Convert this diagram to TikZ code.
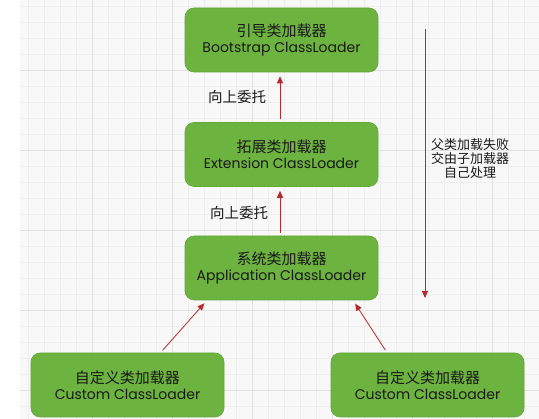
\documentclass[tikz,border=0pt]{standalone}
\usepackage{fontspec}
\setmainfont{Poppins}
\newfontfamily\cjk{Noto Sans CJK SC}
\usetikzlibrary{arrows.meta,calc}
\definecolor{boxgreen}{HTML}{6DB33F}
\definecolor{boxedge}{HTML}{64A83A}
\definecolor{arrowred}{HTML}{B8292B}
\definecolor{gridbg}{HTML}{F8F8F8}
\definecolor{gridminor}{HTML}{EEEEEE}
\definecolor{gridmajor}{HTML}{E2E2E2}
\tikzset{
  loader/.style={draw=boxedge, line width=0.6pt, fill=boxgreen, rounded corners=9pt,
    minimum width=193pt, minimum height=64pt, align=center, inner sep=0pt,
    font=\fontsize{14}{15.5}\selectfont, text=black!90},
  uparrow/.style={draw=arrowred, line width=0.8pt, -{Triangle[length=7pt,width=6pt]},
    shorten <=3pt, shorten >=4pt},
  cjklabel/.style={font=\cjk\fontsize{14.5}{15}\selectfont, text=black!90, align=center},
}
\begin{document}
\begin{tikzpicture}[x=1pt,y=-1pt]
\useasboundingbox (0,0) rectangle (539,419);
\fill[white] (0,0) rectangle (539,419);
\fill[gridbg] (20,0) rectangle (539,419);
\foreach \x in {28,44,...,539} \draw[gridminor, line width=0.5pt] (\x,0) -- (\x,419);
\foreach \y in {6,22,...,419} \draw[gridminor, line width=0.5pt] (20,\y) -- (539,\y);
\foreach \x in {92,172,...,539} \draw[gridmajor, line width=0.7pt] (\x,0) -- (\x,419);
\foreach \y in {70,150,...,419} \draw[gridmajor, line width=0.7pt] (20,\y) -- (539,\y);

\node[loader] (boot) at (281.5,40) {{\cjk\fontsize{15}{15.5}\selectfont 引导类加载器}\\Bootstrap ClassLoader};
\node[loader] (ext) at (281.5,154.5) {{\cjk\fontsize{15}{15.5}\selectfont 拓展类加载器}\\Extension ClassLoader};
\node[loader] (app) at (281.5,268) {{\cjk\fontsize{15}{15.5}\selectfont 系统类加载器}\\Application ClassLoader};
\node[loader] (c1) at (127.5,385) {{\cjk\fontsize{15}{15.5}\selectfont 自定义类加载器}\\Custom ClassLoader};
\node[loader] (c2) at (427.5,385) {{\cjk\fontsize{15}{15.5}\selectfont 自定义类加载器}\\Custom ClassLoader};

\draw[uparrow] ([xshift=-1.5pt]ext.north) -- ([xshift=-1.5pt]boot.south);
\draw[uparrow] ([xshift=-1.5pt]app.north) -- ([xshift=-1.5pt]ext.south);
\draw[uparrow] ([xshift=33pt]c1.north) -- ([xshift=-74.5pt]app.south);
\draw[uparrow] ([xshift=-40.5pt]c2.north) -- ([xshift=71.5pt]app.south);

\node[cjklabel] (l1) at (237,97) {向上委托};
\node[cjklabel] (l2) at (239,213) {向上委托};

\coordinate (dtop) at (425,29);
\coordinate (dbot) at (425,298);
\draw[draw=arrowred, line width=0.8pt, -{Triangle[length=7pt,width=6pt]}] (dtop) -- (dbot);
\node[font=\cjk\fontsize{13}{14}\selectfont, text=black!90, align=center] (side) at (470,159)
  {父类加载失败\\交由子加载器\\自己处理};
\end{tikzpicture}
\end{document}
